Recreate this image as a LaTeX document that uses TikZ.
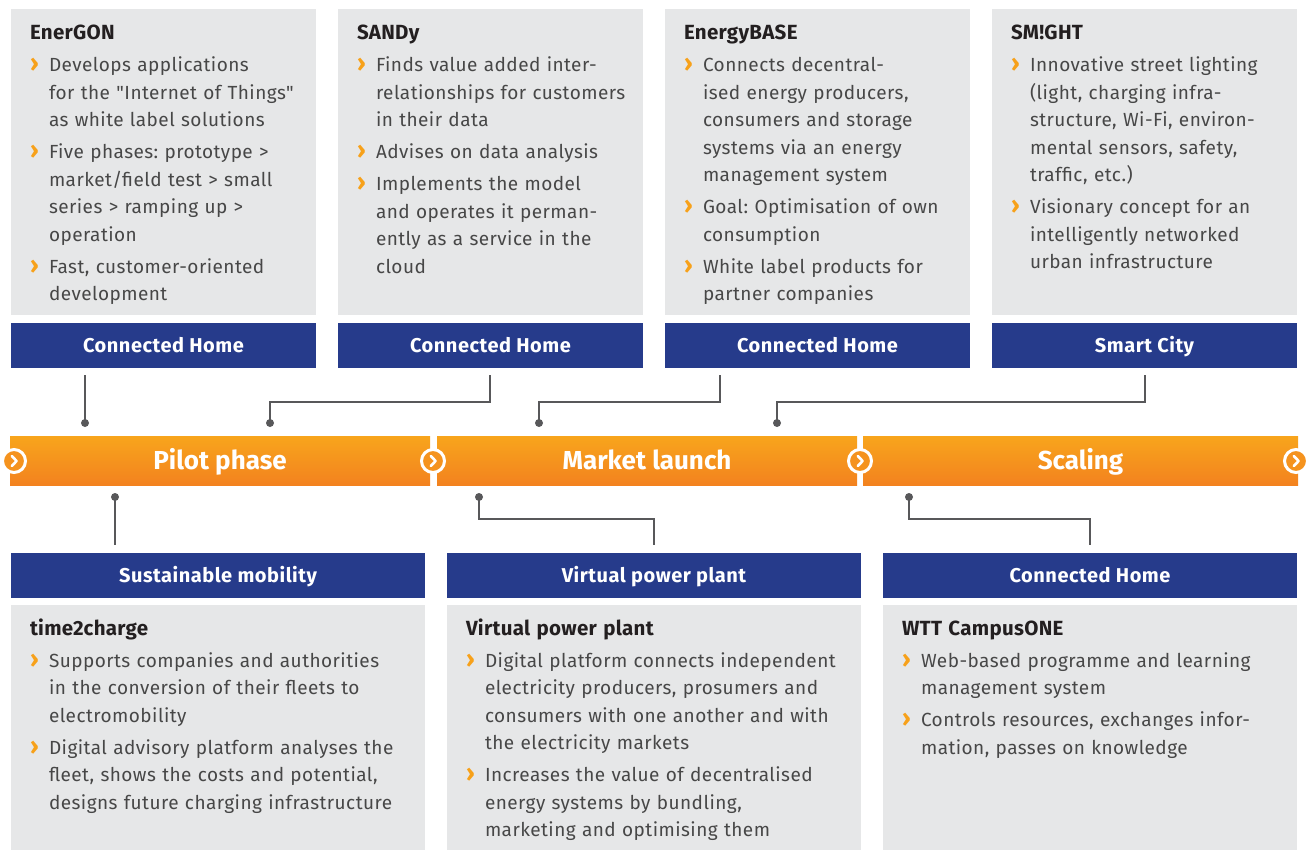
\documentclass[tikz,border=0pt]{standalone}
\usepackage{fontspec}
\setmainfont{Fira Sans}[Ligatures=TeXOff]
\usetikzlibrary{calc}
\definecolor{boxgray}{HTML}{E6E7E8}
\definecolor{hdrblue}{HTML}{263B8B}
\definecolor{chev}{HTML}{F7A11A}
\definecolor{txtgray}{HTML}{474747}
\definecolor{ttl}{HTML}{231F20}
\definecolor{linegray}{HTML}{58585A}
\definecolor{otop}{HTML}{F8A51C}
\definecolor{obot}{HTML}{F3821F}
\definecolor{omid}{HTML}{F5931E}
\newcommand\bul{\par\hangindent=19pt\hangafter=1\noindent\makebox[19pt][l]{\textcolor{chev}{\fontsize{24}{24}\selectfont\bfseries ›}}}
\newcommand\ttlfont{\fontsize{20.5}{27.5}\selectfont\bfseries\addfontfeatures{LetterSpace=1.5}\color{ttl}}
\newcommand\bodyfont{\fontsize{19}{27.5}\selectfont\addfontfeatures{LetterSpace=2.4}}
\tikzset{
  graybox/.style={fill=boxgray, draw=none, anchor=north west, inner sep=0pt, outer sep=0pt},
  hdr/.style={fill=hdrblue, text=white, anchor=north west, inner sep=0pt, outer sep=0pt,
    minimum height=45pt, text height=14pt, text depth=0pt,
    font=\fontsize{20}{22}\selectfont\bfseries\addfontfeatures{LetterSpace=2.6}},
  obar/.style={top color=otop, bottom color=obot, draw=none, anchor=north west, inner sep=0pt, outer sep=0pt,
    minimum height=49pt, text=white, text height=18.5pt, text depth=0pt,
    font=\fontsize{26}{30}\selectfont\bfseries},
  circ/.style={circle, fill=omid, draw=white, line width=3pt, minimum size=23pt, inner sep=0pt},
  chevline/.style={white, line width=2.6pt, line cap=round, line join=round},
  txt/.style={anchor=north west, inner sep=0pt, outer sep=0pt, text width=420pt, text=txtgray,
    font=\bodyfont, execute at begin node={\frenchspacing\setlength\parskip{4.5pt}\setlength\parindent{0pt}\rightskip=0pt plus 1fil\relax}},
  conn/.style={draw=linegray, line width=1.6pt},
  dot/.style={fill=linegray}
}
\begin{document}
\begin{tikzpicture}[x=1pt,y=-1pt]
\useasboundingbox (0,0) rectangle (1316,850);
% top gray boxes
\node[graybox, minimum width=305pt, minimum height=306pt] (g1) at (11,9) {};
\node[graybox, minimum width=305pt, minimum height=306pt] (g2) at (338,9) {};
\node[graybox, minimum width=305pt, minimum height=306pt] (g3) at (665,9) {};
\node[graybox, minimum width=305pt, minimum height=306pt] (g4) at (992,9) {};
% top headers
\node[hdr, minimum width=305pt] (h1) at (11,323) {Connected Home};
\node[hdr, minimum width=305pt] (h2) at (338,323) {Connected Home};
\node[hdr, minimum width=305pt] (h3) at (665,323) {Connected Home};
\node[hdr, minimum width=305pt] (h4) at (992,323) {Smart City};
% bottom headers
\node[hdr, minimum width=414pt] (h5) at (11,553) {Sustainable mobility};
\node[hdr, minimum width=414pt] (h6) at (447,553) {Virtual power plant};
\node[hdr, minimum width=414pt] (h7) at (883,553) {Connected Home};
% bottom gray boxes
\node[graybox, minimum width=414pt, minimum height=245pt] (g5) at (11,605) {};
\node[graybox, minimum width=414pt, minimum height=245pt] (g6) at (447,605) {};
\node[graybox, minimum width=414pt, minimum height=245pt] (g7) at (883,605) {};
% orange bars
\node[obar, minimum width=420pt] (b1) at (10,436) {Pilot phase};
\node[obar, minimum width=420pt] (b2) at (437,436) {Market launch};
\node[obar, minimum width=435pt] (b3) at (863,436) {Scaling};
% circles
\foreach \n/\cx in {c1/14, c2/433, c3/860, c4/1296}{
  \node[circ] (\n) at (\cx,461) {};
  \draw[chevline] ($(\n)+(-2.2,-5)$) -- ($(\n)+(2.6,0)$) -- ($(\n)+(-2.2,5)$);
}
% connectors top
\coordinate (s1) at (85,375);   \coordinate (d1) at (85,423);
\coordinate (s2) at (490,375);  \coordinate (d2) at (270,423);
\coordinate (s3) at (720,375);  \coordinate (d3) at (539,423);
\coordinate (s4) at (1145,375); \coordinate (d4) at (777,423);
\draw[conn] (s1) -- (d1);
\draw[conn] (s2) -- ++(0,27) -| (d2);
\draw[conn] (s3) -- ++(0,27) -| (d3);
\draw[conn] (s4) -- ++(0,27) -| (d4);
% connectors bottom
\coordinate (d5) at (115,497); \coordinate (s5) at (115,545);
\coordinate (d6) at (479,497); \coordinate (s6) at (654,545);
\coordinate (d7) at (909,497); \coordinate (s7) at (1090,545);
\draw[conn] (d5) -- (s5);
\draw[conn] (d6) -- ++(0,22) -| (s6);
\draw[conn] (d7) -- ++(0,22) -| (s7);
\foreach \d in {d1,d2,d3,d4,d5,d6,d7}{\fill[dot] (\d) circle (4pt);}
% texts top
\node[txt] (t1) at (30,20) {{\ttlfont EnerGON\rule{0pt}{20pt}}\par
\bul Develops applications\newline for the "Internet of Things"\newline as white label solutions
\bul Five phases: prototype >\newline market/field test > small\newline series > ramping up >\newline operation
\bul Fast, customer-oriented\newline development\par};
\node[txt] (t2) at (357,20) {{\ttlfont SANDy\rule{0pt}{20pt}}\par
\bul Finds value added inter-\newline relationships for customers\newline in their data
\bul Advises on data analysis
\bul Implements the model\newline and operates it perman-\newline ently as a service in the\newline cloud\par};
\node[txt] (t3) at (684,20) {{\ttlfont EnergyBASE\rule{0pt}{20pt}}\par
\bul Connects decentral-\newline ised energy producers,\newline consumers and storage\newline systems via an energy\newline management system
\bul Goal: Optimisation of own\newline consumption
\bul White label products for\newline partner companies\par};
\node[txt] (t4) at (1011,20) {{\ttlfont SM!GHT\rule{0pt}{20pt}}\par
\bul Innovative street lighting\newline (light, charging infra-\newline structure, Wi-Fi, environ-\newline mental sensors, safety,\newline traffic, etc.)
\bul Visionary concept for an\newline intelligently networked\newline urban infrastructure\par};
% texts bottom
\node[txt] (t5) at (30,615) {{\ttlfont time2charge\rule{0pt}{20pt}}\par
\bul Supports companies and authorities\newline in the conversion of their fleets to\newline electromobility
\bul Digital advisory platform analyses the\newline fleet, shows the costs and potential,\newline designs future charging infrastructure\par};
\node[txt] (t6) at (466,615) {{\ttlfont Virtual power plant\rule{0pt}{20pt}}\par
\bul Digital platform connects independent\newline electricity producers, prosumers and\newline consumers with one another and with\newline the electricity markets
\bul Increases the value of decentralised\newline energy systems by bundling,\newline marketing and optimising them\par};
\node[txt] (t7) at (902,615) {{\ttlfont WTT CampusONE\rule{0pt}{20pt}}\par
\bul Web-based programme and learning\newline management system
\bul Controls resources, exchanges infor-\newline mation, passes on knowledge\par};
\end{tikzpicture}
\end{document}
